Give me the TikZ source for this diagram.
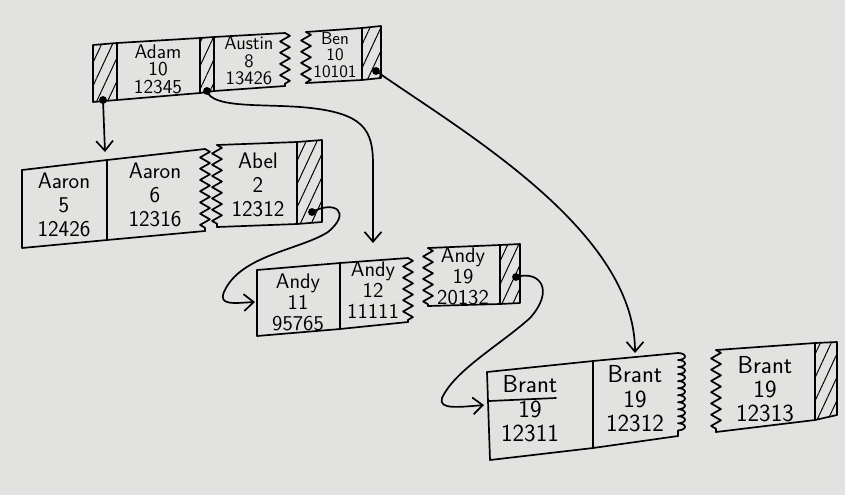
\documentclass[tikz,border=0pt]{standalone}
\usepackage{fontspec}
\usetikzlibrary{arrows.meta,decorations.pathmorphing,decorations.pathreplacing,patterns.meta}
\definecolor{paper}{RGB}{226,227,224}
\begin{document}
\begin{tikzpicture}[x=0.025cm, y=-0.025cm, line width=1.2pt, line join=round, line cap=round,
    >={Straight Barb[length=7pt,width=12pt]},
    rec/.style 2 args={align=center, inner sep=0pt, font=\sffamily\fontsize{#1}{#2}\selectfont},
    hatch/.style={pattern={Lines[angle=65,distance=7pt,line width=0.7pt]}},
    zz/.style={decorate, decoration={zigzag, segment length=8pt, amplitude=3.5pt}},
    bb/.style={decorate, decoration={bumps, segment length=10pt, amplitude=5pt}}]
    \useasboundingbox (0,0) rectangle (845,495);
    \fill[paper] (0,0) rectangle (845,495);
    % root page
    \draw[hatch] (93,45) -- (117,43) -- (117,100) -- (93,102) -- cycle;
    \draw (117,43) -- (200,38) -- (200,93) -- (117,100);
    \draw[hatch] (200,38) -- (214,37) -- (214,91) -- (200,93) -- cycle;
    \draw (214,37) -- (285,33);
    \draw[zz] (285,33) -- (285,86);
    \draw (285,86) -- (214,91);
    \draw[zz] (306,32) -- (306,83);
    \draw (306,32) -- (362,28) -- (362,80) -- (306,83);
    \draw[hatch] (362,28) -- (381,26) -- (381,78) -- (362,80) -- cycle;
    \node (adam) at (158,69) [rec={14}{12.5}] {Adam\\10\\12345};
    \node (austin) at (249,61) [rec={13.5}{12.5}] {Austin\\8\\13426};
    \node (ben) at (335,55) [rec={12.5}{12}] {Ben\\10\\10101};
    \coordinate (rootL) at (103,100);
    \coordinate (rootM) at (207,91);
    \coordinate (rootR) at (376,71);
    % Aaron / Abel page
    \draw (22,170) -- (107,160) -- (205,149);
    \draw (22,170) -- (22,248) -- (107,240) -- (205,231);
    \draw (107,160) -- (107,240);
    \draw[zz] (205,149) -- (205,231);
    \draw[zz] (217,145) -- (217,227);
    \draw (217,145) -- (297,142);
    \draw (217,227) -- (297,224);
    \draw[hatch] (297,142) -- (322,140) -- (322,222) -- (297,224) -- cycle;
    \node (aaronA) at (64,205) [rec={16}{17}] {Aaron\\5\\12426};
    \node (aaronB) at (155,195) [rec={16}{17}] {Aaron\\6\\12316};
    \node (abel) at (258,185) [rec={16}{17}] {Abel\\2\\12312};
    \coordinate (abelP) at (312,212);
    % Andy page
    \draw (257,270) -- (340,263) -- (408,258);
    \draw (257,270) -- (257,336) -- (340,329) -- (408,322);
    \draw (340,263) -- (340,329);
    \draw[zz] (408,258) -- (408,322);
    \draw[zz] (428,248) -- (428,306);
    \draw (428,248) -- (500,245);
    \draw (428,306) -- (500,304);
    \draw[hatch] (500,245) -- (520,244) -- (520,303) -- (500,304) -- cycle;
    \node (andyA) at (298,302) [rec={15}{15}] {Andy\\11\\95765};
    \node (andyB) at (373,290) [rec={15}{15}] {Andy\\12\\11111};
    \node (andyC) at (463,276) [rec={15}{15}] {Andy\\19\\20132};
    \coordinate (andyP) at (516,277);
    % Brant page
    \draw (487,372) -- (593,361) -- (678,353);
    \draw (487,372) -- (490,460) -- (593,448) -- (678,436);
    \draw (593,361) -- (593,448);
    \draw[bb] (678,353) -- (678,436);
    \draw[zz] (716,350) -- (716,432);
    \draw (716,350) -- (815,343);
    \draw (716,432) -- (815,420);
    \draw[hatch] (815,343) -- (837,342) -- (837,415) -- (815,420) -- cycle;
    \draw (489,401) -- (556,398);
    \node (brantA) at (530,409) [rec={17.5}{17.5}] {Brant\\19\\12311};
    \node (brantB) at (635,399) [rec={17.5}{17.5}] {Brant\\19\\12312};
    \node (brantC) at (765,389) [rec={17.5}{17}] {Brant\\19\\12313};
    % pointers
    \coordinate (aaronTop) at (105,152);
    \coordinate (andyTop) at (373,243);
    \coordinate (brantTop) at (635,353);
    \coordinate (andyIn) at (255,302);
    \coordinate (brantIn) at (484,405);
    \foreach \p in {rootL,rootM,rootR,abelP,andyP} \fill (\p) circle (2.8pt);
    \draw[->] (rootL) -- (aaronTop);
    \draw[->] (rootM) .. controls (212,108) and (260,104) .. (300,107)
        .. controls (365,112) and (373,130) .. (373,165) -- (andyTop);
    \draw[->] (rootR) .. controls (460,130) and (635,230) .. (brantTop);
    \draw[->] (abelP) .. controls (335,200) and (352,212) .. (328,232)
        .. controls (300,250) and (240,255) .. (224,292)
        .. controls (218,306) and (235,303) .. (andyIn);
    \draw[->] (andyP) .. controls (540,270) and (555,290) .. (530,318)
        .. controls (500,345) and (455,370) .. (442,398)
        .. controls (438,410) and (460,407) .. (brantIn);
\end{tikzpicture}
\end{document}
